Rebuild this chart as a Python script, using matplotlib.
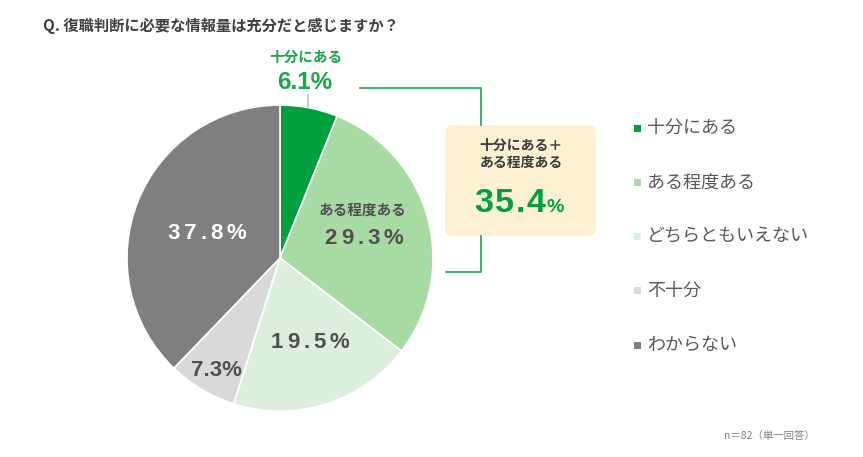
import matplotlib
matplotlib.use("Agg")
import matplotlib.pyplot as plt
from matplotlib.patches import FancyBboxPatch, Rectangle

plt.rcParams['font.family'] = ['Noto Sans CJK JP', 'DejaVu Sans']

title = "Q. 復職判断に必要な情報量は充分だと感じますか？"
categories = ["十分にある", "ある程度ある", "どちらともいえない", "不十分", "わからない"]
values = [6.1, 29.3, 19.5, 7.3, 37.8]
colors = ["#00a03e", "#a8dba4", "#dcefdc", "#d9d9d9", "#7f7f7f"]
combined_label = ["十分にある＋", "ある程度ある"]
combined_value = "35.4"
note = "n＝82（単一回答）"

fig = plt.figure(figsize=(8.63, 4.57), dpi=100)
ax = fig.add_axes([0, 0, 1, 1])
r = fig.canvas.get_renderer()

# pie in pixel coords, y axis flipped -> startangle -90 + counterclock draws clockwise from top
ax.pie(values, colors=colors, center=(280, 258), radius=153, startangle=-90,
       counterclock=True, wedgeprops=dict(edgecolor="white", linewidth=1.2))
ax.set_xlim(0, 863)
ax.set_ylim(457, 0)
ax.set_aspect("auto")
ax.axis("off")

NUM = ["Liberation Sans", "DejaVu Sans"]


def spaced(x, y, s, gap, **kw):
    widths = []
    for ch in s:
        t = ax.text(0, 0, ch, **kw)
        widths.append(t.get_window_extent(r).width)
        t.remove()
    total = sum(widths) + gap * (len(s) - 1)
    cur = x - total / 2
    for ch, w in zip(s, widths):
        ax.text(cur + w / 2, y, ch, ha="center", va="baseline", **kw)
        cur += w + gap


ax.text(43, 26, title, ha="left", va="center", fontsize=11, fontweight="bold", color="#404040")

# slice labels
dark = "#505050"
ax.text(306, 57, categories[0], ha="center", va="center", fontsize=10.5, fontweight="bold", color="#1aa64a")
ax.text(305, 89, f"{values[0]}%", ha="center", va="baseline", fontsize=17.5, fontweight="bold",
        color="#1aa64a", family=NUM)
ax.plot([308, 308], [95, 107], color="#c0c0c0", lw=1.2)

ax.text(362, 210, categories[1], ha="center", va="center", fontsize=10.5, fontweight="bold", color=dark)
spaced(364, 244, f"{values[1]}%", 4, fontsize=16, fontweight="bold", color=dark, family=NUM)
spaced(310, 348, f"{values[2]}%", 4, fontsize=16, fontweight="bold", color=dark, family=NUM)
ax.text(216, 376, f"{values[3]}%", ha="center", va="baseline", fontsize=16, fontweight="bold",
        color=dark, family=NUM)
spaced(207, 239, f"{values[4]}%", 4, fontsize=16, fontweight="bold", color="white", family=NUM)

# callout
lc = "#1aa64a"
ax.plot([360, 481, 481], [88, 88, 125], color=lc, lw=1.2)
ax.plot([481, 481, 446], [236, 272, 272], color=lc, lw=1.2)
ax.add_patch(FancyBboxPatch((445, 125), 151, 111, boxstyle="round,pad=0,rounding_size=7",
                            fc="#fdf1d3", ec="none"))
ax.text(521, 146, combined_label[0], ha="center", va="center", fontsize=10, fontweight="bold", color="#3a3a3a")
ax.text(521, 163, combined_label[1], ha="center", va="center", fontsize=10, fontweight="bold", color="#3a3a3a")
spaced(510, 212, combined_value, 1.5, fontsize=24.5, fontweight="bold", color="#00a03e", family=NUM)
ax.text(546, 212, "%", ha="left", va="baseline", fontsize=14, fontweight="bold", color="#00a03e", family=NUM)

# legend
for i, (lab, c) in enumerate(zip(categories, colors)):
    y = 128 + i * 54.3
    ax.add_patch(Rectangle((633.5, y - 3.5), 7, 7, fc=c, ec="none"))
    ax.text(647, y, lab, ha="left", va="center", fontsize=13, color="#595959")

ax.text(815, 436, note, ha="right", va="center", fontsize=7.5, color="#808080")

fig.savefig("out.png", dpi=100)
